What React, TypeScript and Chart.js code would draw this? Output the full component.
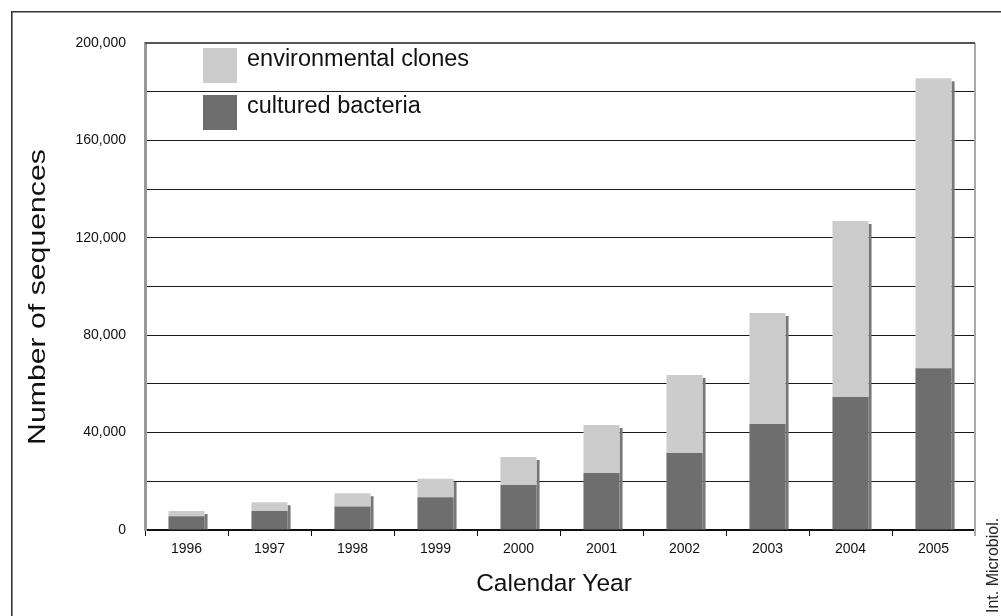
import React, { useEffect, useRef } from "react";
import { Chart, registerables } from "chart.js";

Chart.register(...registerables);

const years = ["1996", "1997", "1998", "1999", "2000", "2001", "2002", "2003", "2004", "2005"];
const culturedBacteria = [5600, 7800, 9700, 13500, 18500, 23400, 31600, 43500, 54600, 66400];
const environmentalClones = [2200, 3600, 5400, 7500, 11500, 19700, 32100, 45600, 72300, 119100];
const yLabelTicks = [0, 40000, 80000, 120000, 160000, 200000];
const yTitle = "Number of sequences";
const xTitle = "Calendar Year";
const sourceNote = "Int. Microbiol.";

const FONT = "'Liberation Sans', Arial, Helvetica, sans-serif";
const LIGHT = "#cccccc";
const DARK = "#6e6e6e";
const SHADOW = "#777777";

const decorPlugin = {
  id: "decor",
  beforeDraw(chart: any) {
    const { ctx } = chart;
    ctx.save();
    ctx.fillStyle = "#ffffff";
    ctx.fillRect(0, 0, chart.width, chart.height);
    // outer frame (top and left)
    ctx.strokeStyle = "#333333";
    ctx.lineWidth = 1.6;
    ctx.beginPath();
    ctx.moveTo(11.8, chart.height);
    ctx.lineTo(11.8, 11.8);
    ctx.lineTo(chart.width, 11.8);
    ctx.stroke();
    ctx.restore();
  },
  beforeDatasetsDraw(chart: any) {
    const { ctx } = chart;
    const top = chart.getDatasetMeta(1).data;
    const bottom = chart.getDatasetMeta(0).data;
    ctx.save();
    ctx.fillStyle = SHADOW;
    top.forEach((el: any, i: number) => {
      const p = el.getProps(["x", "y", "width"], true);
      const b = bottom[i].getProps(["base"], true);
      const right = p.x + p.width / 2;
      ctx.fillRect(right, p.y + 3, 3, b.base - p.y - 3);
    });
    ctx.restore();
  },
  afterDraw(chart: any) {
    const { ctx, chartArea } = chart;
    ctx.save();
    // right border of plot area
    ctx.strokeStyle = "#aaaaaa";
    ctx.lineWidth = 2;
    ctx.beginPath();
    ctx.moveTo(chartArea.right, chartArea.top);
    ctx.lineTo(chartArea.right, chartArea.bottom + 6);
    ctx.stroke();
    // top border
    ctx.strokeStyle = "#555555";
    ctx.lineWidth = 2;
    ctx.beginPath();
    ctx.moveTo(chartArea.left, chartArea.top);
    ctx.lineTo(chartArea.right, chartArea.top);
    ctx.stroke();

    // legend
    const ds = chart.data.datasets;
    const items = [ds[1], ds[0]];
    const lx = chartArea.left + 58;
    let ly = chartArea.top + 5;
    ctx.font = `23.5px ${FONT}`;
    ctx.textBaseline = "middle";
    ctx.textAlign = "left";
    items.forEach((d: any) => {
      ctx.fillStyle = d.backgroundColor;
      ctx.fillRect(lx, ly, 34, 35);
      ctx.fillStyle = "#111111";
      ctx.fillText(d.label, lx + 44, ly + 12);
      ly += 47;
    });

    // y axis title (stretched along its length, as in the original)
    ctx.save();
    ctx.font = `24px ${FONT}`;
    ctx.fillStyle = "#111111";
    ctx.textAlign = "center";
    ctx.textBaseline = "middle";
    ctx.translate(38, 297);
    ctx.rotate(-Math.PI / 2);
    ctx.scale(1.26, 1);
    ctx.fillText(yTitle, 0, 0);
    ctx.restore();

    // x axis title
    ctx.save();
    ctx.font = `24.5px ${FONT}`;
    ctx.fillStyle = "#111111";
    ctx.textAlign = "center";
    ctx.textBaseline = "middle";
    ctx.fillText(xTitle, (chartArea.left + chartArea.right) / 2 - 6, 584);
    ctx.restore();

    // source note
    ctx.font = `16px ${FONT}`;
    ctx.fillStyle = "#222222";
    ctx.textAlign = "left";
    ctx.translate(994, 613);
    ctx.rotate(-Math.PI / 2);
    ctx.textBaseline = "middle";
    ctx.fillText(sourceNote, 0, 0);
    ctx.restore();
  },
};

export default function App() {
  const ref = useRef<HTMLCanvasElement | null>(null);
  useEffect(() => {
    document.body.style.margin = "0";
    const chart = new Chart(ref.current as HTMLCanvasElement, {
      type: "bar",
      data: {
        labels: years,
        datasets: [
          {
            label: "cultured bacteria",
            data: culturedBacteria,
            backgroundColor: DARK,
            borderWidth: 0,
            barPercentage: 0.435,
            categoryPercentage: 1,
          },
          {
            label: "environmental clones",
            data: environmentalClones,
            backgroundColor: LIGHT,
            borderWidth: 0,
            barPercentage: 0.435,
            categoryPercentage: 1,
          },
        ],
      },
      options: {
        animation: false,
        responsive: false,
        maintainAspectRatio: false,
        layout: { padding: { left: 0, top: 43, right: 26, bottom: 0 } },
        plugins: { legend: { display: false }, tooltip: { enabled: false } },
        scales: {
          x: {
            stacked: true,
            afterFit(scale: any) {
              scale.height = 86;
            },
            grid: {
              display: true,
              offset: true,
              drawOnChartArea: false,
              drawTicks: true,
              tickLength: 6,
              color: "#111111",
              lineWidth: 1,
            },
            border: { display: true, color: "#111111", width: 2 },
            ticks: {
              color: "#111111",
              font: { family: FONT, size: 14 },
              padding: 5,
              maxRotation: 0,
            },
          },
          y: {
            stacked: true,
            min: 0,
            max: 200000,
            afterFit(scale: any) {
              scale.width = 145;
            },
            grid: {
              drawTicks: false,
              color: (c: any) =>
                c.tick && (c.tick.value === 0 || c.tick.value === 200000) ? "rgba(0,0,0,0)" : "#1a1a1a",
              lineWidth: 1,
            },
            border: { display: true, color: "#999999", width: 3 },
            ticks: {
              stepSize: 20000,
              padding: 19,
              color: "#111111",
              font: { family: FONT, size: 14 },
              callback: (v: any) =>
                yLabelTicks.includes(Number(v)) ? Number(v).toLocaleString("en-US") : "",
            },
          },
        },
      },
      plugins: [decorPlugin],
    });
    return () => chart.destroy();
  }, []);
  return (
    <div style={{ position: "fixed", left: 0, top: 0, width: 1001, height: 616 }}>
      <canvas ref={ref} width={1001} height={616} style={{ width: 1001, height: 616, display: "block" }} />
    </div>
  );
}
